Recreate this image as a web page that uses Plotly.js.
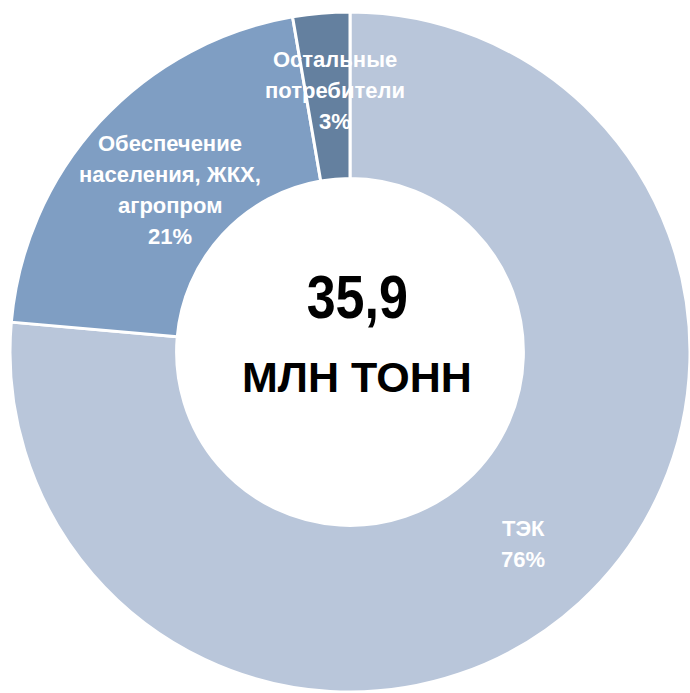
<!DOCTYPE html>
<html>
<head>
<meta charset="utf-8">
<script src="https://cdn.plot.ly/plotly-3.0.1.min.js"></script>
<style>html,body{margin:0;padding:0;background:#fff;}#chart{width:690px;height:693px;}</style>
</head>
<body>
<div id="chart"></div>
<script>
var categories = ["ТЭК", "Обеспечение<br>населения, ЖКХ,<br>агропром", "Остальные<br>потребители"];
var values = [76.4, 20.9, 2.7];
var colors = ["#B9C6DA", "#7F9EC3", "#64809F"];
var totalValue = "35,9";
var totalUnit = "МЛН ТОНН";

var FONT = "'Liberation Sans', Arial, sans-serif";

var labelPos = [
  {x: 523, y: 544},
  {x: 170, y: 190},
  {x: 335, y: 90}
];
var LINE = 31;

var W = 690, H = 693;
function px(x){return x / W;}
function py(y){return 1 - y / H;}

var annotations = [];
categories.forEach(function(c, i){
  var lines = c.split("<br>").concat([Math.round(values[i]) + "%"]);
  var n = lines.length;
  lines.forEach(function(t, k){
    annotations.push({
      text: "<b>" + t + "</b>",
      x: px(labelPos[i].x), y: py(labelPos[i].y + (k - (n - 1) / 2) * LINE),
      xref: "paper", yref: "paper", showarrow: false,
      xanchor: "center", yanchor: "middle",
      font: {family: FONT, size: 22, color: "#ffffff"}
    });
  });
});
annotations.push({
  text: "<b>" + totalValue + "</b>", x: px(357), y: py(296),
  xref: "paper", yref: "paper", showarrow: false, xanchor: "center", yanchor: "middle",
  font: {family: FONT, size: 62, color: "#000000"}
});
annotations.push({
  text: "<b>" + totalUnit + "</b>", x: px(357), y: py(377),
  xref: "paper", yref: "paper", showarrow: false, xanchor: "center", yanchor: "middle",
  font: {family: FONT, size: 43, color: "#000000"}
});

var trace = {
  type: "pie",
  labels: categories,
  values: values,
  hole: 0.51,
  sort: false,
  direction: "clockwise",
  rotation: 0,
  textinfo: "none",
  hoverinfo: "none",
  marker: {colors: colors, line: {color: "#ffffff", width: 3}},
  domain: {x: [px(10), px(690)], y: [py(692), py(12)]}
};

Plotly.newPlot("chart", [trace], {
  width: W, height: H,
  margin: {l: 0, r: 0, t: 0, b: 0},
  showlegend: false,
  paper_bgcolor: "#ffffff",
  annotations: annotations
}, {displayModeBar: false, staticPlot: true}).then(function(){
  // the reference uses a condensed face for the big number
  document.querySelectorAll("text.annotation-text").forEach(function(el){
    if (el.textContent === totalValue) {
      var b = el.getBBox();
      var cx = b.x + b.width / 2;
      var prev = el.getAttribute("transform") || "";
      el.setAttribute("transform", prev + " translate(" + cx + ",0) scale(0.84,1) translate(" + (-cx) + ",0)");
    }
  });
});
</script>
</body>
</html>
